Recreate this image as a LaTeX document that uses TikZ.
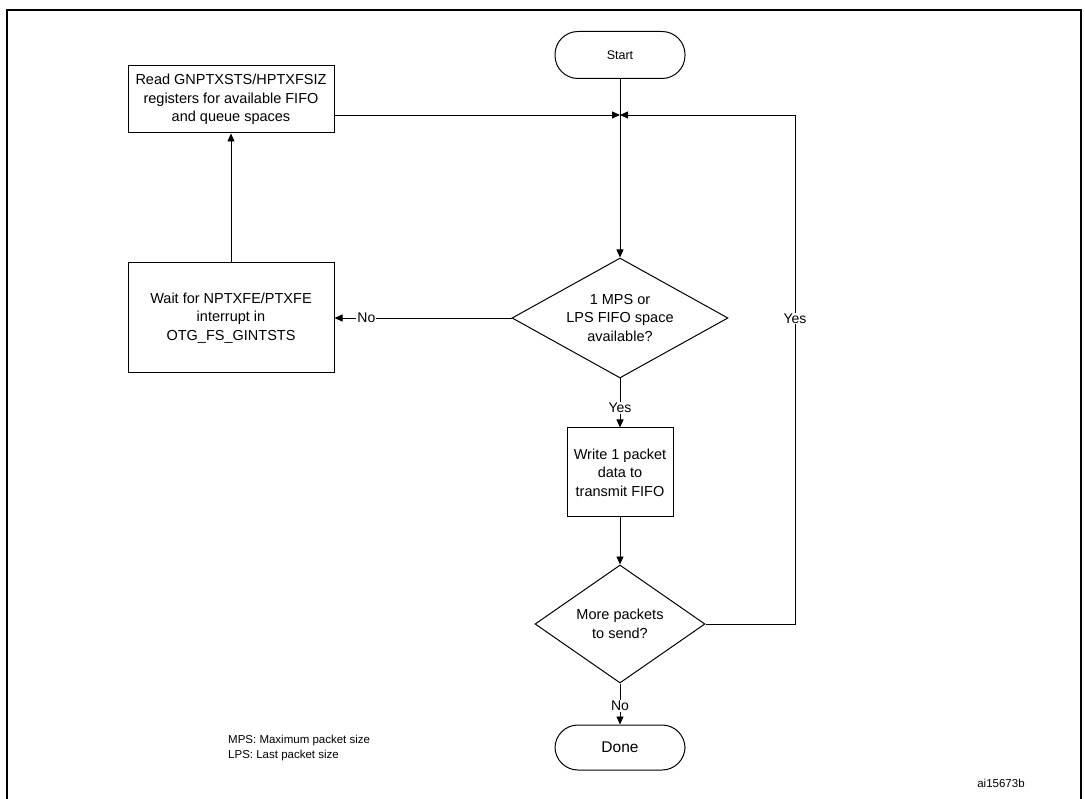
\documentclass[tikz,border=0pt]{standalone}
\usepackage{fontspec}
\setmainfont{Liberation Sans}
\usetikzlibrary{shapes.geometric,arrows.meta}
\begin{document}
\begin{tikzpicture}[x=1pt,y=-1pt,
  box/.style={draw,line width=1pt,align=center,font=\fontsize{14.5}{18.5}\selectfont,inner sep=0pt},
  term/.style={draw,line width=1pt,rounded corners=23pt,minimum width=130pt,minimum height=47pt,inner sep=0pt},
  dec/.style={draw,line width=1pt,diamond,aspect=1.8,align=center,inner sep=0pt,font=\fontsize{14.5}{18.5}\selectfont},
  ln/.style={line width=0.8pt},
  arr/.style={ln,-{Triangle[length=8pt,width=7pt]}},
  lbl/.style={fill=white,font=\fontsize{14}{17}\selectfont,inner sep=1pt}]
\useasboundingbox (0,0) rectangle (1085,799);
\fill[white] (0,0) rectangle (1085,799);
\draw[line width=1.2pt] (7,10) rectangle (1081,802);
\node[term,font=\fontsize{12.5}{14}\selectfont] (start) at (620,55) {Start};
\node[box,minimum width=206pt,minimum height=67pt] (read) at (231,99.5) {Read GNPTXSTS/HPTXFSIZ\\registers for available FIFO\\and queue spaces};
\coordinate (j) at (620,115);
\coordinate (rc) at (795,115);
\node[dec,minimum width=216pt,minimum height=120pt] (d1) at (620,318) {1 MPS or\\LPS FIFO space\\available?};
\node[box,minimum width=206pt,minimum height=110pt] (wait) at (231,318) {Wait for NPTXFE/PTXFE\\interrupt in\\OTG\_FS\_GINTSTS};
\node[box,minimum width=106pt,minimum height=89pt] (write) at (620,472.5) {Write 1 packet\\data to\\transmit FIFO};
\node[dec,minimum width=170pt,minimum height=118pt] (d2) at (620,624) {More packets\\to send?};
\node[term,font=\fontsize{15.5}{19}\selectfont,minimum height=45pt] (done) at (620,747.5) {Done};
\coordinate (rd) at (795,624);
\draw[arr] (read.east |- j) -- (j);
\draw[ln] (start) -- (j);
\draw[arr] (j) -- (d1.north);
\draw[arr] (d1.west) -- node[lbl,pos=0.82]{No} (wait.east);
\draw[arr] (wait.north) -- (read.south);
\draw[arr] (d1.south) -- node[lbl,pos=0.6]{Yes} (write.north);
\draw[arr] (write.south) -- (d2.north);
\draw[arr] (d2.south) -- node[lbl,pos=0.55]{No} (done.north);
\draw[arr] (d2.east) -- (rd) -- node[lbl,pos=0.6]{Yes} (rc) -- (j);
\node[anchor=west,align=left,font=\fontsize{11.5}{15}\selectfont,inner sep=0pt] (note) at (228,748) {MPS: Maximum packet size\\LPS: Last packet size};
\node[font=\fontsize{11.5}{13}\selectfont] (id) at (1001,783) {ai15673b};
\end{tikzpicture}
\end{document}
